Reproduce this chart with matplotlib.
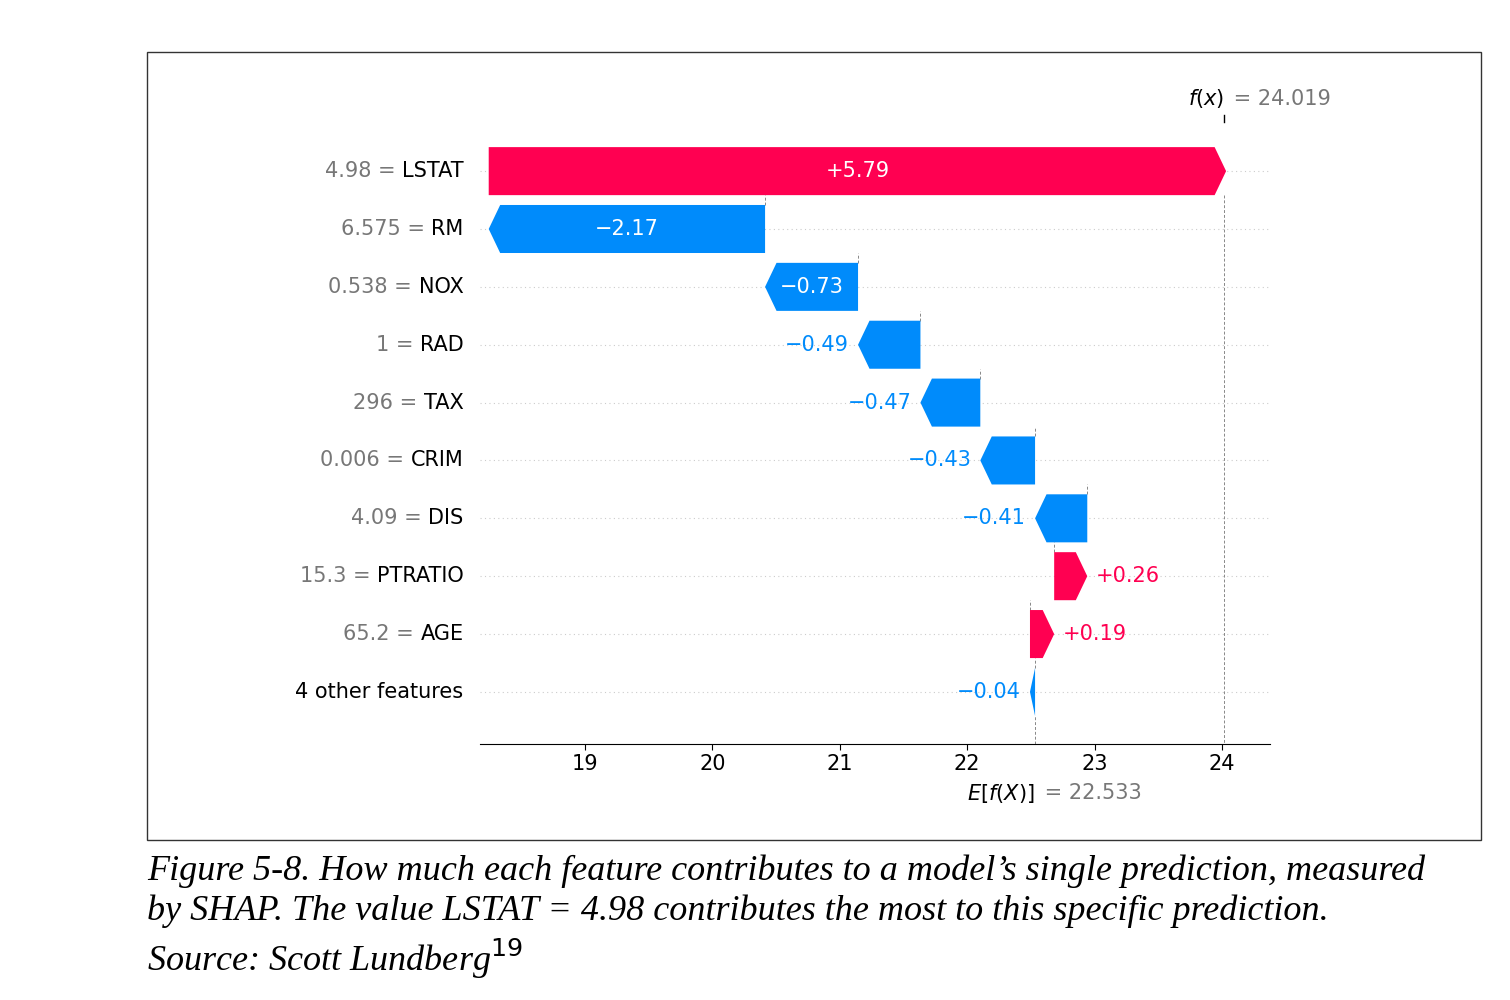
import matplotlib.pyplot as plt
from matplotlib.patches import Polygon, Rectangle

features = ["LSTAT", "RM", "NOX", "RAD", "TAX", "CRIM", "DIS", "PTRATIO", "AGE", "4 other features"]
feature_values = ["4.98", "6.575", "0.538", "1", "296", "0.006", "4.09", "15.3", "65.2", ""]
shap_values = [5.79, -2.17, -0.73, -0.49, -0.47, -0.43, -0.41, 0.26, 0.19, -0.04]
base_value = 22.533
fx_value = 24.019
xticks = [19, 20, 21, 22, 23, 24]

RED = "#ff0051"
BLUE = "#008bfb"

fig = plt.figure(figsize=(15.1, 10), dpi=100)
ax = fig.add_axes([0.318, 0.256, 0.523, 0.629])
fig.patches.append(Rectangle((147 / 1510, 1 - 840 / 1000), (1481 - 147) / 1510, (840 - 52) / 1000,
                             transform=fig.transFigure, fill=False, ec="#333333", lw=1))

n = len(features)
ax.set_xlim(18.176, 24.377)
ax.set_ylim(-0.9, n - 1 + 0.97)

# walk from the bottom (base value) upward
cur = base_value
starts = {}
for i in range(n - 1, -1, -1):
    starts[i] = cur
    cur += shap_values[i]

h = 0.83
head = 0.09
fig.canvas.draw()
for i in range(n):
    y = n - 1 - i
    v = shap_values[i]
    s = starts[i]
    e = s + v
    col = RED if v > 0 else BLUE
    hl = min(head, abs(v))
    d = 1 if v > 0 else -1
    pts = [(s, y - h / 2), (e - d * hl, y - h / 2), (e, y), (e - d * hl, y + h / 2), (s, y + h / 2)]
    ax.add_patch(Polygon(pts, closed=True, fc=col, ec="none", zorder=3))
    ax.axhline(y, color="#cccccc", lw=0.8, ls=(0, (1, 3)), zorder=0)
    lab = ("+" if v > 0 else "\u2212") + f"{abs(v):.2f}"
    if abs(v) > 0.6:
        ax.text((s + e) / 2, y, lab, ha="center", va="center", color="white", fontsize=15, zorder=4)
    else:
        off = 0.07
        ax.text(e + d * off if v > 0 else min(s, e) - off, y, lab,
                ha="left" if v > 0 else "right", va="center", color=col, fontsize=15, zorder=4)
    # connector to next row
    if i > 0:
        ax.plot([s, s], [y + h / 2, y + 1 - h / 2], color="#888888", lw=0.7, ls=(0, (3, 2)), zorder=1)

# base and prediction guides
ax.plot([base_value, base_value], [-0.9, -h / 2], color="#888888", lw=0.7, ls=(0, (3, 2)))
ax.plot([fx_value, fx_value], [n - 1 - h / 2, -0.9], color="#888888", lw=0.7, ls=(0, (3, 2)), zorder=1)
ax.plot([fx_value, fx_value], [n - 1 + 0.97, n - 1 + 0.85], color="black", lw=1, clip_on=False)

# y labels: grey value + black feature name
renderer = fig.canvas.get_renderer()
for i in range(n):
    y = n - 1 - i
    t = ax.annotate(features[i], xy=(0, y), xycoords=("axes fraction", "data"), xytext=(-12, 0),
                    textcoords="offset points", ha="right", va="center", fontsize=15, color="black")
    if feature_values[i]:
        bb = t.get_window_extent(renderer)
        x0 = ax.transAxes.inverted().transform((bb.x0, bb.y0))[0]
        ax.annotate(feature_values[i] + " = ", xy=(x0, y), xycoords=("axes fraction", "data"),
                    ha="right", va="center", fontsize=15, color="#777777")

ax.text(fx_value, n - 1 + 1.25, "$f(x)$", ha="right", va="center", fontsize=15)
ax.text(fx_value + 0.02, n - 1 + 1.25, " = 24.019", ha="left", va="center", fontsize=15, color="#777777")
ax.text(base_value, -1.75, "$E[f(X)]$", ha="right", va="center", fontsize=15)
ax.text(base_value + 0.02, -1.75, " = 22.533", ha="left", va="center", fontsize=15, color="#777777")

for sp in ["left", "right", "top"]:
    ax.spines[sp].set_visible(False)
ax.set_yticks([])
ax.set_xticks(xticks)
ax.tick_params(axis="x", labelsize=15, length=4)

cap = ("Figure 5-8. How much each feature contributes to a model\u2019s single prediction, measured\n"
       "by SHAP. The value LSTAT = 4.98 contributes the most to this specific prediction.\n"
       "Source: Scott Lundberg$^{19}$")
fig.text(147 / 1510, 1 - 855 / 1000, cap, ha="left", va="top", fontsize=26, style="italic",
         family="Liberation Serif", linespacing=1.25)

fig.savefig("out.png", dpi=100)
